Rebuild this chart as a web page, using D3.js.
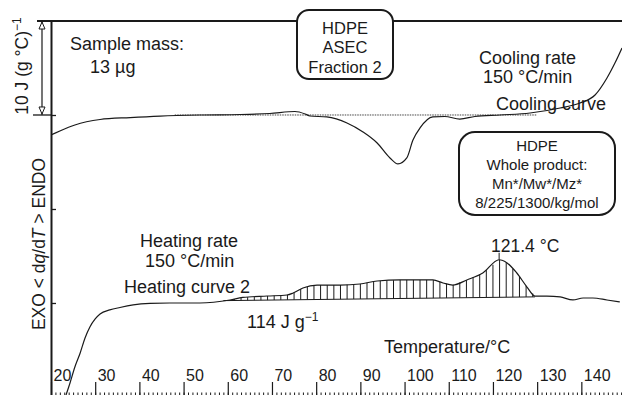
<!DOCTYPE html>
<html>
<head>
<meta charset="utf-8">
<script src="https://cdn.jsdelivr.net/npm/d3@7"></script>
<style>
  html, body { margin: 0; padding: 0; background: #fff; }
  svg { display: block; font-family: "Liberation Sans", Arial, sans-serif; }
  text { fill: #1a1a1a; }
</style>
</head>
<body>
<svg id="chart" width="622" height="395"></svg>
<script>
// DSC traces of HDPE fraction, dq/dT in J (g °C)^-1 (offset stacked), temperature in °C
const coolingT = [20, 22, 25.4, 31.1, 37.9, 44.7, 53.7, 62.8, 69.5, 75.2, 77.5, 78.6, 82.4, 86.97, 90.6, 93.8, 96.7, 98.5, 100.5, 101.9, 103.5, 106.4, 109.1, 112.5, 115.9, 121.6, 128.4, 135.2, 139.7, 143.1, 145.8, 147.6, 149.2];
const coolingV = [17.87, 18.3, 18.94, 19.52, 19.73, 19.89, 20.0, 20.05, 20.16, 20.37, 20.11, 19.89, 19.79, 19.15, 18.19, 17.02, 15.43, 14.79, 15.43, 17.34, 18.62, 19.79, 19.84, 19.57, 19.84, 20.0, 20.21, 20.74, 21.28, 22.13, 23.94, 25.53, 27.13];

const heatingT = [23.4, 24.3, 25.4, 26.6, 27.7, 28.8, 30.0, 31.1, 33.3, 35.6, 38.6, 42.4, 46.9, 53.7, 60.5, 63.4, 68.9, 73.4, 74.8, 77.0, 80.2, 85.4, 89.9, 93.8, 99.0, 106.4, 108.7, 110.9, 114.1, 117.7, 121.4, 123.2, 125.4, 127.7, 129.5, 132.2, 135.2, 138.1, 140.4, 142.6, 145.8, 148.7];
const heatingV = [-9.79, -8.51, -6.81, -5.32, -3.72, -2.55, -1.7, -1.17, -0.74, -0.48, -0.21, -0.05, 0, 0, 0.32, 0.59, 0.74, 0.85, 1.06, 1.6, 1.91, 1.91, 2.02, 2.34, 2.45, 2.45, 2.13, 1.91, 2.45, 3.19, 4.6, 4.26, 3.19, 1.7, 0.74, 0.74, 0.64, 0.32, 0.53, 0.53, 0.32, 0.11];

// integration baseline under the melting endotherm (T, value)
const meltBaseT = [59, 129.5];
const meltBaseV = [0.25, 0.65];
const peakT = 121.4;
const peakV = 4.6;

const xTicks = [20, 30, 40, 50, 60, 70, 80, 90, 100, 110, 120, 130, 140];
const yTicks = [0, 10, 20];
const scaleBar = [20, 30];

const svg = d3.select("#chart");
const ink = "#1a1a1a";

const x = d3.scaleLinear().domain([20, 149.2]).range([51, 622]);
const y = d3.scaleLinear().domain([-9.79, 30]).range([395, 21]);

svg.append("clipPath").attr("id", "plot")
  .append("rect").attr("x", 51).attr("y", 21).attr("width", 571).attr("height", 374);

// x axis: minor degree marks and major ticks pointing up from the bottom edge
const minor = d3.range(20, 150, 1);
svg.append("g").attr("transform", `translate(0,395)`)
  .call(d3.axisTop(x).tickValues(minor).tickSize(2.5).tickFormat(""))
  .call(g => g.select(".domain").remove())
  .call(g => g.selectAll("line").attr("stroke", ink).attr("stroke-width", 1));

const xa = svg.append("g").attr("transform", `translate(0,395)`)
  .call(d3.axisTop(x).tickValues(xTicks).tickSize(13).tickPadding(1).tickFormat(d3.format("d")))
  .call(g => g.select(".domain").remove());
xa.selectAll("line").attr("stroke", ink).attr("stroke-width", 1.2);
xa.selectAll("text")
  .attr("text-anchor", "start").attr("x", 2).attr("y", -14)
  .attr("font-size", 16).attr("fill", ink)
  .style("font-family", '"Liberation Sans", Arial, sans-serif');

// y axis line with inward ticks
const ya = svg.append("g").attr("transform", `translate(51,0)`)
  .call(d3.axisRight(y).tickValues(yTicks).tickSize(5).tickSizeOuter(0).tickFormat(""));
ya.select(".domain").attr("stroke", ink).attr("stroke-width", 2);
ya.selectAll("line").attr("stroke", ink).attr("stroke-width", 1.3);

// top frame line
svg.append("line").attr("x1", 37).attr("x2", 622)
  .attr("y1", y(scaleBar[1])).attr("y2", y(scaleBar[1]))
  .attr("stroke", ink).attr("stroke-width", 2);
// scale bar foot
svg.append("line").attr("x1", 33).attr("x2", 51)
  .attr("y1", y(scaleBar[0])).attr("y2", y(scaleBar[0]))
  .attr("stroke", ink).attr("stroke-width", 1.3);

// scale bar with open arrowheads
const bx = 42;
svg.append("line").attr("x1", bx).attr("x2", bx)
  .attr("y1", y(scaleBar[1])).attr("y2", y(scaleBar[0]))
  .attr("stroke", ink).attr("stroke-width", 1.2);
const ytop = y(scaleBar[1]), ybot = y(scaleBar[0]);
svg.append("path")
  .attr("d", `M${bx},${ytop + 1} L${bx - 3},${ytop + 8} L${bx + 3},${ytop + 8} Z`)
  .attr("fill", "#fff").attr("stroke", ink).attr("stroke-width", 1);
svg.append("path")
  .attr("d", `M${bx},${ybot - 1} L${bx - 3},${ybot - 8} L${bx + 3},${ybot - 8} Z`)
  .attr("fill", "#fff").attr("stroke", ink).attr("stroke-width", 1);

// y axis labels
const lab1 = svg.append("text")
  .attr("transform", `translate(28,66) rotate(-90)`)
  .attr("text-anchor", "middle").attr("font-size", 17.5);
lab1.append("tspan").text("10 J (g °C)");
lab1.append("tspan").text("−1").attr("font-size", 12).attr("dy", -7);

const lab2 = svg.append("text")
  .attr("transform", `translate(45,244) rotate(-90)`)
  .attr("text-anchor", "middle").attr("font-size", 17.5);
lab2.append("tspan").text("EXO < d");
lab2.append("tspan").text("q").attr("font-style", "italic");
lab2.append("tspan").text("/d");
lab2.append("tspan").text("T").attr("font-style", "italic");
lab2.append("tspan").text(" > ENDO");

const line = d3.line().x(d => x(d[0])).y(d => y(d[1])).curve(d3.curveMonotoneX);
const plot = svg.append("g").attr("clip-path", "url(#plot)");

// cooling reference line (dotted)
plot.append("line")
  .attr("x1", x(48)).attr("x2", x(130))
  .attr("y1", y(20)).attr("y2", y(20))
  .attr("stroke", "#444").attr("stroke-width", 1).attr("stroke-dasharray", "1.5,1");

// hatched melting area
const cool = coolingT.map((t, i) => [t, coolingV[i]]);
const heat = heatingT.map((t, i) => [t, heatingV[i]]);
const interp = (T, V, t) => {
  const i = d3.bisectRight(T, t);
  if (i <= 0) return V[0];
  if (i >= T.length) return V[V.length - 1];
  const f = (t - T[i - 1]) / (T[i] - T[i - 1]);
  return V[i - 1] + f * (V[i] - V[i - 1]);
};
const baseAt = t => interp(meltBaseT, meltBaseV, t);
const hatchT = d3.range(60, 129.6, 1.5);
plot.append("g").selectAll("line").data(hatchT).join("line")
  .attr("x1", d => x(d)).attr("x2", d => x(d))
  .attr("y1", d => y(baseAt(d)))
  .attr("y2", d => y(Math.max(baseAt(d), interp(heatingT, heatingV, d))))
  .attr("stroke", ink).attr("stroke-width", 1);
plot.append("line")
  .attr("x1", x(meltBaseT[0])).attr("x2", x(meltBaseT[1]))
  .attr("y1", y(meltBaseV[0])).attr("y2", y(meltBaseV[1]))
  .attr("stroke", ink).attr("stroke-width", 1);

plot.append("path").datum(cool).attr("d", line)
  .attr("fill", "none").attr("stroke", ink).attr("stroke-width", 1.2);
plot.append("path").datum(heat).attr("d", line)
  .attr("fill", "none").attr("stroke", ink).attr("stroke-width", 1.2);

// peak marker
svg.append("line").attr("x1", x(peakT)).attr("x2", x(peakT))
  .attr("y1", y(peakV) - 7).attr("y2", y(peakV))
  .attr("stroke", ink).attr("stroke-width", 1);
svg.append("text").attr("x", x(peakT) + 26).attr("y", y(peakV) - 8)
  .attr("text-anchor", "middle").attr("font-size", 17.5).text(`${peakT} °C`);

// annotations
const note = (tx, ty, s, size = 18) =>
  svg.append("text").attr("x", tx).attr("y", ty).attr("font-size", size).text(s);
note(70, 50, "Sample mass:");
note(90, 73, "13 µg");
note(479, 64, "Cooling rate");
note(483, 83, "150 °C/min");
note(496, 110, "Cooling curve");
note(140, 247, "Heating rate");
note(145, 267, "150 °C/min");
note(124, 293, "Heating curve 2");
note(384, 353, "Temperature/°C");
const e = note(247, 328, "114 J g");
e.append("tspan").text("−1").attr("font-size", 12).attr("dy", -7);

// sample boxes
const box = (bx0, by0, w, h, r, lines, size, baselines) => {
  svg.append("rect").attr("x", bx0).attr("y", by0).attr("width", w).attr("height", h)
    .attr("rx", r).attr("ry", r).attr("fill", "#fff").attr("stroke", ink).attr("stroke-width", 2);
  lines.forEach((s, i) =>
    svg.append("text").attr("x", bx0 + w / 2).attr("y", baselines[i])
      .attr("text-anchor", "middle").attr("font-size", size).text(s));
};
box(297, 10, 96, 69, 12, ["HDPE", "ASEC", "Fraction 2"], 16.5, [33.5, 53, 72.5]);
box(459, 132, 156, 83, 16, ["HDPE", "Whole product:", "Mn*/Mw*/Mz*", "8/225/1300/kg/mol"], 15, [151, 169.5, 188.5, 207.5]);
</script>
</body>
</html>
